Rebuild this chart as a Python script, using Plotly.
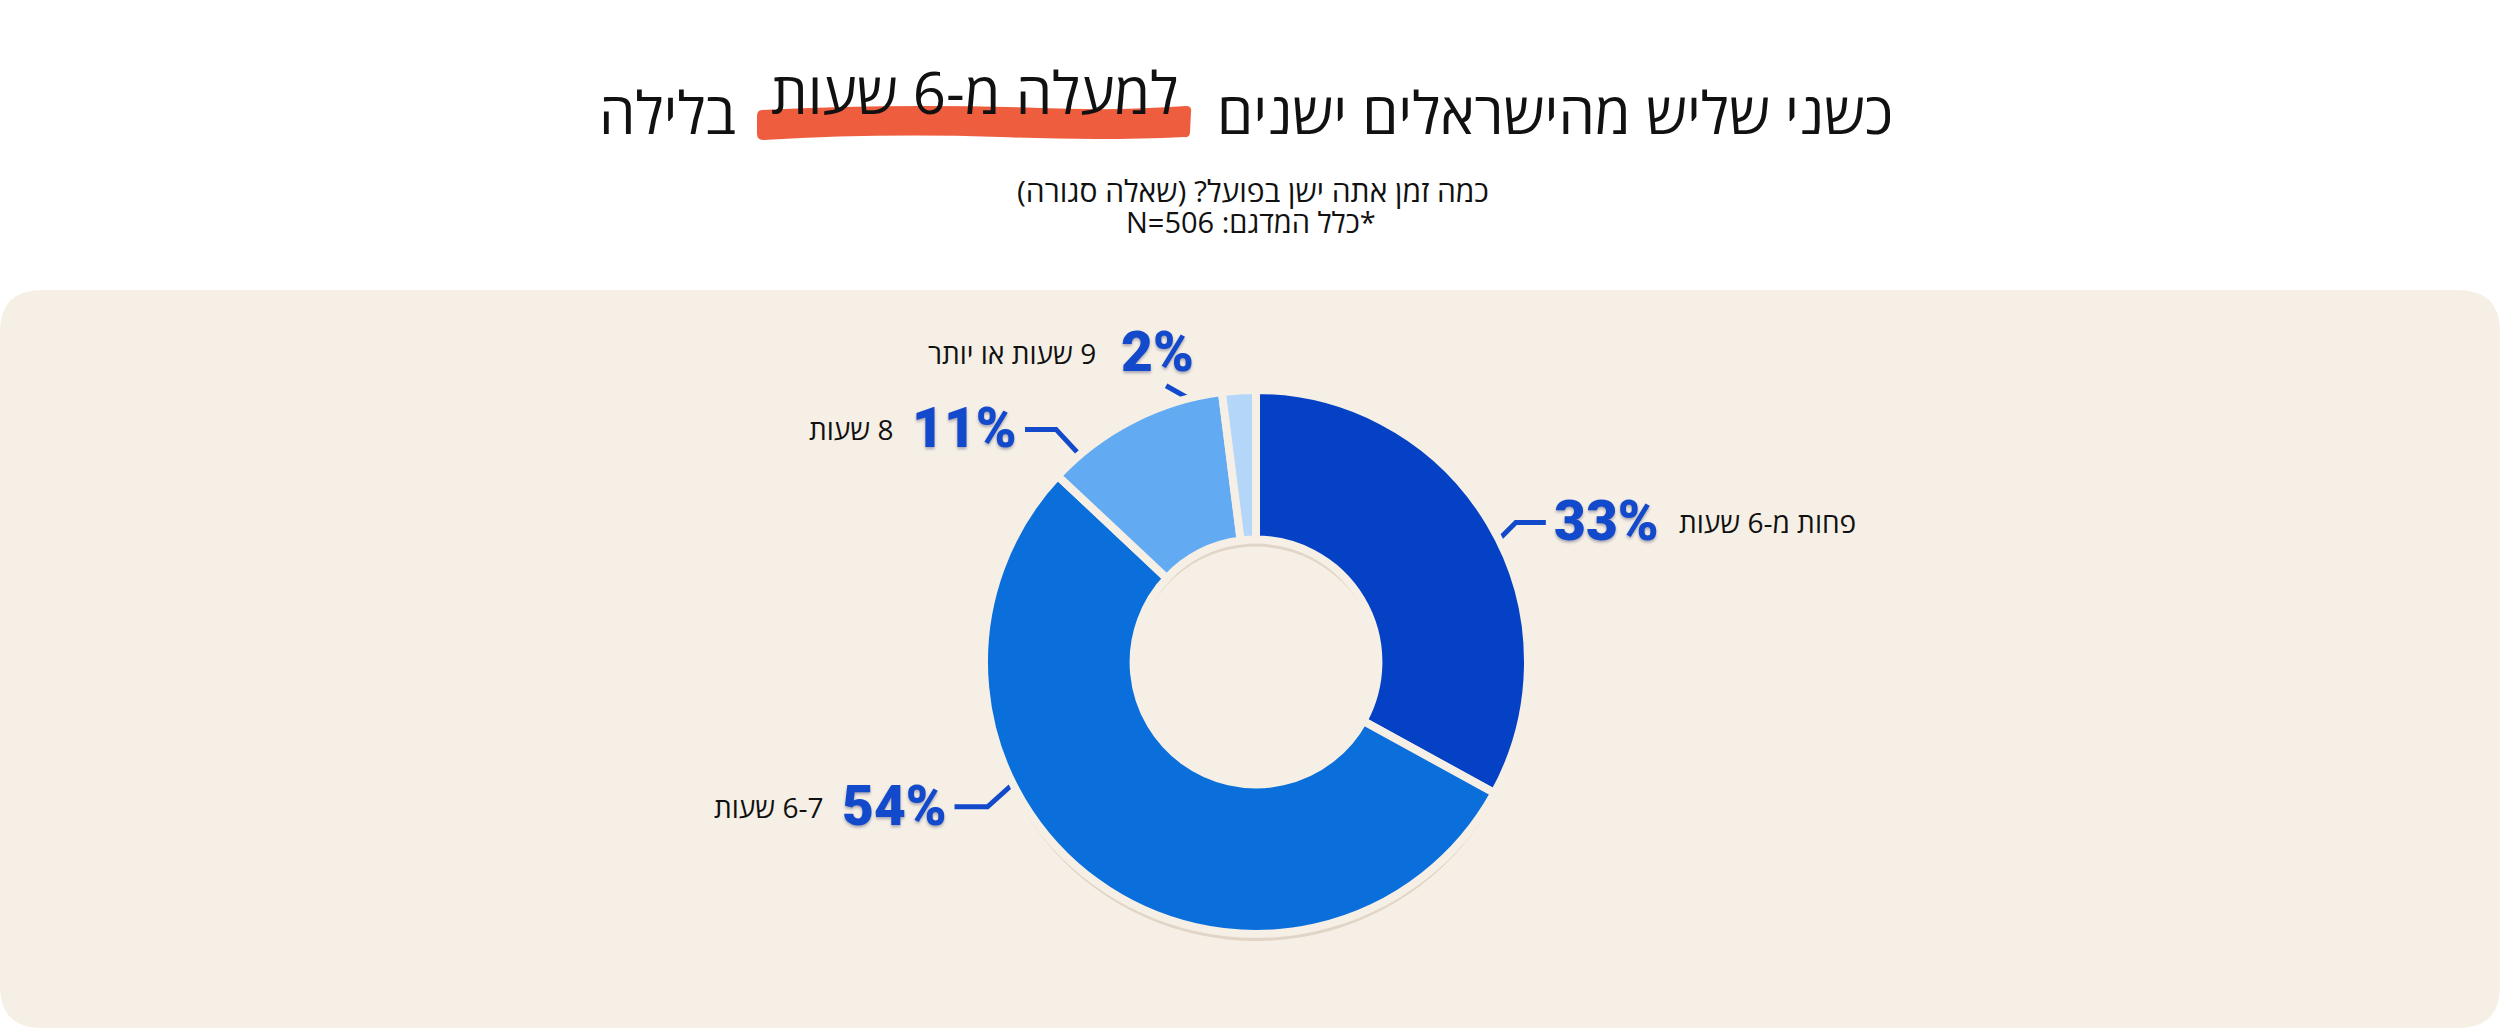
import math
import plotly.graph_objects as go

W, H = 2500, 1030

# data
categories = ["פחות מ-6 שעות", "6-7 שעות", "8 שעות", "9 שעות או יותר"]
shares = [33, 54, 11, 2]
slice_colors = ["#0441C4", "#0A6FDA", "#62AAF2", "#B4D6F8"]

title_main = "כשני שליש מהישראלים ישנים"
title_mark = "למעלה מ-6 שעות"
title_tail = "בלילה"
subtitle = "כמה זמן אתה ישן בפועל? (שאלה סגורה)"
sample_note = "*כלל המדגם: N=506"

# layout constants (pixels, y down)
CX, CY, R = 1256, 662, 272
HOLE = 0.45
BEIGE = "#F6EFE5"
BLUE_TXT = "#134ACB"
HEB_FONT = "Open Sans, Liberation Sans, DejaVu Sans, sans-serif"
NUM_FONT = "Roboto, Inter, Liberation Sans, sans-serif"
TXT_DY = -1

# leader geometry per slice: start angle (deg clockwise from 12), start radius,
# elbow offset, end offset, side of the labels
leaders = [
    dict(ang=63.5, r=268, elbow=(20, -20), end=(30, 0), side="right"),
    dict(ang=243.7, r=266, elbow=(-30, 27), end=(-33, 0), side="left"),
    dict(ang=319.6, r=270, elbow=(-25, -27), end=(-31, 0), side="left"),
    dict(ang=348.9, r=254, elbow=(-2, -5), end=(-39, -22), side="top"),
]


def rtl(s):
    return "\u202b" + s + "\u202c"


fig = go.Figure()

# pixel-space axes for shapes, leaders and texts
fig.update_xaxes(range=[0, W], visible=False, fixedrange=True)
fig.update_yaxes(range=[H, 0], visible=False, fixedrange=True)

dom_x = [(CX - R) / W, (CX + R) / W]
dom_y = [(H - CY - R) / H, (H - CY + R) / H]
sh = 7
dom_y_sh = [(H - CY - R - sh) / H, (H - CY + R - sh) / H]

# soft shadow ring
fig.add_trace(go.Pie(
    values=shares, labels=categories, sort=False, direction="clockwise",
    hole=HOLE, domain=dict(x=dom_x, y=dom_y_sh),
    marker=dict(colors=["rgba(120,88,50,0.17)"] * len(shares), line=dict(width=0)),
    textinfo="none", hoverinfo="skip", showlegend=False,
))
fig.add_trace(go.Pie(
    values=shares, labels=categories, sort=False, direction="clockwise",
    hole=HOLE, domain=dict(x=dom_x, y=dom_y),
    marker=dict(colors=slice_colors, line=dict(color=BEIGE, width=8)),
    textinfo="none", hoverinfo="skip", showlegend=False,
))

num_font = dict(family=NUM_FONT, size=55, color=BLUE_TXT, weight=900,
                shadow="0px 2px 3px rgba(20,30,80,0.35)")
cat_font = dict(family=HEB_FONT, size=28, color="#111111")

annotations = []
for cat, val, ld in zip(categories, shares, leaders):
    a = math.radians(ld["ang"])
    x0 = CX + ld["r"] * math.sin(a)
    y0 = CY - ld["r"] * math.cos(a)
    x1, y1 = x0 + ld["elbow"][0], y0 + ld["elbow"][1]
    x2, y2 = x1 + ld["end"][0], y1 + ld["end"][1]
    fig.add_trace(go.Scatter(
        x=[x0, x1, x2], y=[y0, y1, y2], mode="lines",
        line=dict(color=BLUE_TXT, width=5), hoverinfo="skip", showlegend=False,
    ))
    pct = f"{val}%"
    pct_w = 30 * len(str(val)) + 46
    if ld["side"] == "right":
        annotations.append(dict(x=x2 + 6, y=y2 + TXT_DY, text=pct, xanchor="left",
                                yanchor="middle", font=num_font, showarrow=False))
        annotations.append(dict(x=x2 + 6 + pct_w + 19, y=y2 + 1 + TXT_DY, text=rtl(cat),
                                xanchor="left", yanchor="middle", font=cat_font, showarrow=False))
    elif ld["side"] == "left":
        annotations.append(dict(x=x2 - 6, y=y2 + TXT_DY, text=pct, xanchor="right",
                                yanchor="middle", font=num_font, showarrow=False))
        annotations.append(dict(x=x2 - 6 - pct_w - 18, y=y2 + 1 + TXT_DY, text=rtl(cat),
                                xanchor="right", yanchor="middle", font=cat_font, showarrow=False))
    else:
        annotations.append(dict(x=x2 - 9, y=y2 - 33 + TXT_DY, text=pct, xanchor="center",
                                yanchor="middle", font=num_font, showarrow=False))
        annotations.append(dict(x=x2 - 9 - pct_w / 2 - 21, y=y2 - 32 + TXT_DY, text=rtl(cat),
                                xanchor="right", yanchor="middle", font=cat_font, showarrow=False))

# title pieces
title_font = dict(family=HEB_FONT, size=58, color="#111111")
annotations += [
    dict(x=1215, y=111, text=rtl(title_main), xanchor="left", yanchor="middle",
         font=title_font, showarrow=False),
    dict(x=974, y=91, text=rtl(title_mark), xanchor="center", yanchor="middle",
         font=title_font, showarrow=False),
    dict(x=738, y=111, text=rtl(title_tail), xanchor="right", yanchor="middle",
         font=title_font, showarrow=False),
    dict(x=1253, y=190, text=rtl(subtitle), xanchor="center", yanchor="middle",
         font=dict(family=HEB_FONT, size=30, color="#111111", weight=500), showarrow=False),
    dict(x=1251, y=221, text=rtl(sample_note), xanchor="center", yanchor="middle",
         font=dict(family=HEB_FONT, size=29, color="#111111"), showarrow=False),
]

shapes = [
    # beige panel with rounded corners
    dict(type="path", xref="x", yref="y", layer="below", line=dict(width=0), fillcolor=BEIGE,
         path="M 0,332 Q 0,290 42,290 L 2458,290 Q 2500,290 2500,332 L 2500,986 "
              "Q 2500,1028 2458,1028 L 42,1028 Q 0,1028 0,986 Z"),
    # marker highlight behind the title phrase
    dict(type="path", xref="x", yref="y", layer="below", line=dict(width=0), fillcolor="#EE5E3E",
         path="M 762,110 Q 900,103 1040,108 Q 1120,111 1186,106 Q 1192,106 1191,112 "
              "L 1190,132 Q 1190,138 1184,137 Q 1100,141 1000,137 Q 880,133 764,140 "
              "Q 757,140 757,134 L 757,116 Q 757,110 762,110 Z"),
]

fig.update_layout(
    width=W, height=H, margin=dict(l=0, r=0, t=0, b=0),
    paper_bgcolor="white", plot_bgcolor="rgba(0,0,0,0)",
    annotations=annotations, shapes=shapes, showlegend=False,
)

# drop the default page margin so the figure sits at the window's corner
fig.write_html("out.html", config={"displayModeBar": False},
               post_script="document.body.style.margin='0px';")
